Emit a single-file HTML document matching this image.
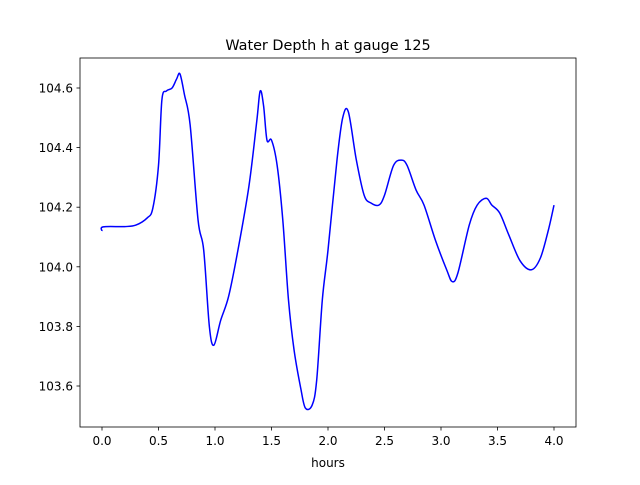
<!DOCTYPE html>
<html><head><meta charset="utf-8"><style>
body{margin:0;background:#fff;}
svg text{font-family:"DejaVu Sans","Liberation Sans",sans-serif;fill:#000;}
</style></head><body>
<svg width="640" height="480" viewBox="0 0 640 480">
<rect width="640" height="480" fill="#fff"/>
<text x="328" y="50" text-anchor="middle" font-size="14.4">Water Depth h at gauge 125</text>
<g id="axes"></g>
<path id="line" fill="none" stroke="#0000ff" stroke-width="1.5"/>
<rect x="80" y="58" width="496" height="369" fill="none" stroke="#000" stroke-width="0.8"/>
<text x="328" y="467" text-anchor="middle" font-size="12">hours</text>
</svg>
<script>
const hours=[0,0.01,0.2,0.3,0.4,0.45,0.5,0.53,0.57,0.62,0.66,0.69,0.73,0.78,0.85,0.9,0.95,0.99,1.05,1.12,1.2,1.3,1.37,1.4,1.43,1.46,1.5,1.55,1.6,1.65,1.7,1.76,1.8,1.86,1.9,1.95,2.0,2.08,2.13,2.18,2.25,2.32,2.38,2.45,2.5,2.58,2.65,2.7,2.78,2.85,2.95,3.05,3.1,3.15,3.25,3.32,3.4,3.45,3.52,3.6,3.7,3.8,3.88,3.95,4.0];
const depth=[104.12,104.134,104.135,104.14,104.164,104.197,104.34,104.56,104.59,104.6,104.63,104.647,104.577,104.476,104.157,104.056,103.8,103.737,103.82,103.9,104.05,104.27,104.49,104.59,104.54,104.425,104.425,104.34,104.157,103.89,103.72,103.59,103.526,103.536,103.62,103.89,104.056,104.36,104.5,104.52,104.36,104.24,104.214,104.207,104.24,104.34,104.358,104.34,104.257,104.207,104.09,103.99,103.95,103.98,104.14,104.207,104.23,104.207,104.18,104.107,104.02,103.99,104.03,104.123,104.207];
const xTicks=[0,0.5,1,1.5,2,2.5,3,3.5,4];
const yTicks=[103.6,103.8,104.0,104.2,104.4,104.6];
const sx=h=>102+h*113;
const sy=v=>88+(104.6-v)*298;
const NS="http://www.w3.org/2000/svg";
const ax=document.getElementById('axes');
function mk(tag,attrs,txt){const e=document.createElementNS(NS,tag);for(const k in attrs)e.setAttribute(k,attrs[k]);if(txt!=null)e.textContent=txt;ax.appendChild(e);return e;}
xTicks.forEach(t=>{
 const l=mk('line',{x1:sx(t),x2:sx(t),y1:427,y2:430.5,stroke:'#000','stroke-width':0.8});
 
 
 const tx=mk('text',{x:sx(t),y:445,'text-anchor':'middle','font-size':12},t.toFixed(1));
 
 
});
yTicks.forEach(t=>{
 const l=mk('line',{x1:76.5,x2:80,y1:sy(t),y2:sy(t),stroke:'#000','stroke-width':0.8});
 
 
 const tx=mk('text',{x:73,y:sy(t)+4.5,'text-anchor':'end','font-size':12},t.toFixed(1));
 
 
});
const P=hours.map((h,i)=>[sx(h),sy(depth[i])]);
let d=`M${P[0][0]},${P[0][1]}`;
for(let i=0;i<P.length-1;i++){
 const p0=P[Math.max(0,i-1)],p1=P[i],p2=P[i+1],p3=P[Math.min(P.length-1,i+2)];
 const c1=[p1[0]+(p2[0]-p0[0])/6,p1[1]+(p2[1]-p0[1])/6];
 const c2=[p2[0]-(p3[0]-p1[0])/6,p2[1]-(p3[1]-p1[1])/6];
 d+=` C${c1[0]},${c1[1]} ${c2[0]},${c2[1]} ${p2[0]},${p2[1]}`;
}
document.getElementById('line').setAttribute('d',d);
</script>
</body></html>
